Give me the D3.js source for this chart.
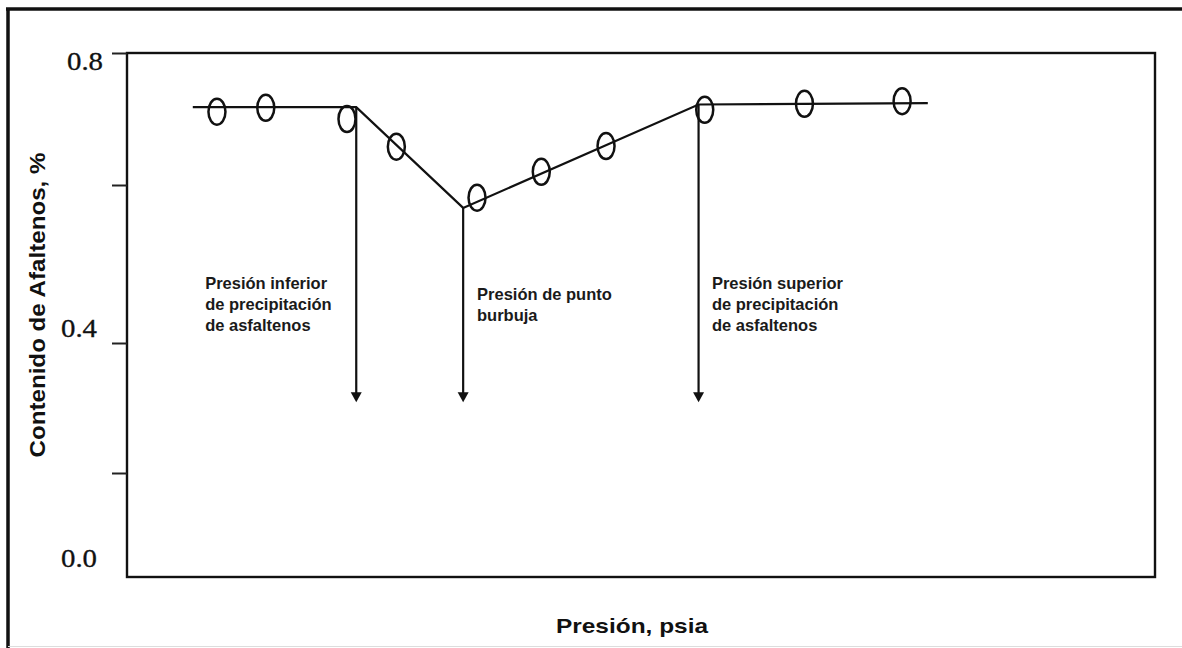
<!DOCTYPE html>
<html>
<head>
<meta charset="utf-8">
<script src="https://cdn.jsdelivr.net/npm/d3@7"></script>
<style>
  body { margin: 0; background: #fff; }
  svg { display: block; }
</style>
</head>
<body>
<script>
// Measured points (pressure in arbitrary units, asphaltene content %)
var pressure = [8.75, 13.5, 21.4, 26.2, 34.05, 40.3, 46.6, 56.2, 65.9, 75.4];
var content  = [0.711, 0.717, 0.700, 0.658, 0.584, 0.620, 0.659, 0.714, 0.723, 0.727];

// Trend line drawn through the data
var trendX = [6.4, 22.3, 32.7, 55.6, 77.9];
var trendY = [0.718, 0.718, 0.571, 0.722, 0.724];

// Marker arrows (lower onset, bubble point, upper onset)
var arrowX = [22.3, 32.7, 55.6];
var arrowEnd = 0.309;

var yTicks = [0.2, 0.4, 0.6, 0.8];
var yLabels = [0.0, 0.4, 0.8];

var notes = [
  { x: 7.6,  lines: ["Presión inferior", "de precipitación", "de asfaltenos"], y0: 289 },
  { x: 34.05, lines: ["Presión de punto", "burbuja"], y0: 300 },
  { x: 56.9, lines: ["Presión superior", "de precipitación", "de asfaltenos"], y0: 289 }
];

var width = 1182, height = 648;

var svg = d3.select("body").append("svg")
    .attr("width", width)
    .attr("height", height);

// outer frame (scan border)
svg.append("line").attr("x1", 8).attr("x2", 8).attr("y1", 8).attr("y2", 648)
    .attr("stroke", "#111").attr("stroke-width", 3.5);
svg.append("line").attr("x1", 6).attr("x2", 1182).attr("y1", 9).attr("y2", 9)
    .attr("stroke", "#111").attr("stroke-width", 3.5);
svg.append("line").attr("x1", 8).attr("x2", 1182).attr("y1", 646.5).attr("y2", 646.5)
    .attr("stroke", "#ddd").attr("stroke-width", 1);

// scanned axis is not quite linear, so map by its tick marks
var x = d3.scaleLinear().domain([0, 100]).range([127, 1155]);
var y = d3.scaleLinear().domain([0, 0.2, 0.4, 0.6, 0.8]).range([577, 473, 343, 185, 53]);

// plot box
svg.append("rect")
    .attr("x", x(0)).attr("y", y(0.8))
    .attr("width", x(100) - x(0)).attr("height", y(0) - y(0.8))
    .attr("fill", "none").attr("stroke", "#111").attr("stroke-width", 2.4);

// y axis ticks
var yAxis = svg.append("g")
    .attr("transform", "translate(" + x(0) + ",0)")
    .call(d3.axisLeft(y).tickValues(yTicks).tickSize(15).tickFormat(""));
yAxis.select(".domain").remove();
yAxis.selectAll(".tick line").attr("stroke", "#222").attr("stroke-width", 2);

// tick labels (scan offsets)
var labelShift = { "0.8": [103, 17], "0.4": [97, -6], "0.0": [97, -10] };
svg.selectAll(".ylab")
    .data(yLabels)
  .enter().append("text")
    .attr("class", "ylab")
    .attr("x", function(d) { return labelShift[d3.format(".1f")(d)][0]; })
    .attr("y", function(d) { return y(d) + labelShift[d3.format(".1f")(d)][1]; })
    .attr("text-anchor", "end")
    .attr("font-family", "'Liberation Serif', 'Times New Roman', serif")
    .attr("font-size", 25)
    .attr("textLength", 36)
    .attr("lengthAdjust", "spacingAndGlyphs")
    .attr("fill", "#111")
    .attr("stroke", "#111")
    .attr("stroke-width", 0.3)
    .text(d3.format(".1f"));

// trend line
var trend = trendX.map(function(d, i) { return [d, trendY[i]]; });
svg.append("path")
    .datum(trend)
    .attr("fill", "none")
    .attr("stroke", "#111")
    .attr("stroke-width", 2.2)
    .attr("d", d3.line().x(function(d) { return x(d[0]); }).y(function(d) { return y(d[1]); }));

// arrows
var trendAt = function(px) {
  for (var i = 1; i < trendX.length; i++) {
    if (px <= trendX[i]) {
      var t = (px - trendX[i - 1]) / (trendX[i] - trendX[i - 1]);
      return trendY[i - 1] + t * (trendY[i] - trendY[i - 1]);
    }
  }
  return trendY[trendY.length - 1];
};
var arrows = svg.selectAll(".arrow").data(arrowX).enter().append("g").attr("class", "arrow");
arrows.append("line")
    .attr("x1", function(d) { return x(d); })
    .attr("x2", function(d) { return x(d); })
    .attr("y1", function(d) { return y(trendAt(d)); })
    .attr("y2", function() { return y(arrowEnd) - 8; })
    .attr("stroke", "#111").attr("stroke-width", 2.2);
arrows.append("path")
    .attr("d", function(d) {
      var cx = x(d), ty = y(arrowEnd);
      return "M" + (cx - 5.5) + "," + (ty - 10) + "L" + (cx + 5.5) + "," + (ty - 10) + "L" + cx + "," + ty + "Z";
    })
    .attr("fill", "#111");

// data markers
svg.selectAll(".pt")
    .data(pressure)
  .enter().append("ellipse")
    .attr("class", "pt")
    .attr("cx", function(d) { return x(d); })
    .attr("cy", function(d, i) { return y(content[i]); })
    .attr("rx", 8.5)
    .attr("ry", 13)
    .attr("fill", "none")
    .attr("stroke", "#111")
    .attr("stroke-width", 2.5);

// annotations
notes.forEach(function(n) {
  var t = svg.append("text")
      .attr("font-family", "'Liberation Sans', Arial, sans-serif")
      .attr("font-weight", "bold")
      .attr("font-size", 16.5)
      .attr("fill", "#1a1a1a");
  n.lines.forEach(function(s, i) {
    t.append("tspan").attr("x", x(n.x)).attr("y", n.y0 + i * 21).text(s);
  });
});

// axis titles
svg.append("text")
    .attr("x", 632).attr("y", 633)
    .attr("text-anchor", "middle")
    .attr("font-family", "'Liberation Sans', Arial, sans-serif")
    .attr("font-weight", "bold")
    .attr("font-size", 21)
    .attr("textLength", 152)
    .attr("lengthAdjust", "spacingAndGlyphs")
    .attr("fill", "#111")
    .text("Presión, psia");

svg.append("text")
    .attr("transform", "translate(45,305) rotate(-90)")
    .attr("text-anchor", "middle")
    .attr("font-family", "'Liberation Sans', Arial, sans-serif")
    .attr("font-weight", "bold")
    .attr("font-size", 22)
    .attr("textLength", 305)
    .attr("lengthAdjust", "spacingAndGlyphs")
    .attr("fill", "#111")
    .text("Contenido de Afaltenos, %");
</script>
</body>
</html>
